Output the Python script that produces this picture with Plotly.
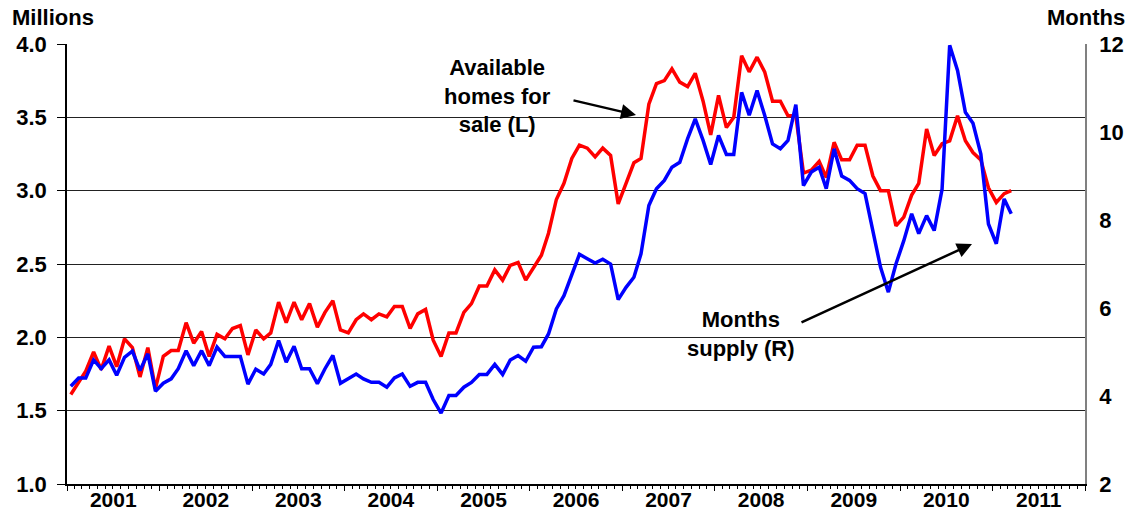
import pandas as pd
import plotly.graph_objects as go

# Monthly observations, January 2001 through March 2011
start_month = "2001-01"

# Existing homes available for sale, millions (left axis)
homes_for_sale = [
    1.61, 1.70, 1.77, 1.90, 1.78, 1.94, 1.80, 1.99, 1.93, 1.73, 1.93, 1.65,
    1.87, 1.91, 1.91, 2.10, 1.96, 2.04, 1.87, 2.02, 1.99, 2.06, 2.08, 1.88,
    2.05, 1.99, 2.03, 2.24, 2.10, 2.24, 2.12, 2.23, 2.07, 2.17, 2.25, 2.05,
    2.03, 2.12, 2.16, 2.12, 2.16, 2.14, 2.21, 2.21, 2.06, 2.16, 2.19, 1.98,
    1.87, 2.03, 2.03, 2.17, 2.23, 2.35, 2.35, 2.46, 2.39, 2.49, 2.51, 2.39,
    2.48, 2.56, 2.71, 2.94, 3.05, 3.22, 3.31, 3.29, 3.23, 3.29, 3.24, 2.91,
    3.05, 3.19, 3.22, 3.59, 3.73, 3.75, 3.83, 3.74, 3.71, 3.80, 3.61, 3.38,
    3.65, 3.43, 3.50, 3.92, 3.81, 3.91, 3.81, 3.61, 3.61, 3.51, 3.51, 3.12,
    3.14, 3.20, 3.09, 3.33, 3.21, 3.21, 3.31, 3.31, 3.10, 3.00, 3.00, 2.76,
    2.82, 2.97, 3.05, 3.42, 3.24, 3.32, 3.34, 3.51, 3.34, 3.26, 3.21, 3.02,
    2.92, 2.98, 3.00,
]

# Months' supply at the current sales pace (right axis)
months_supply = [
    4.22, 4.41, 4.41, 4.82, 4.62, 4.82, 4.47, 4.88, 5.02, 4.58, 4.96, 4.11,
    4.29, 4.39, 4.62, 5.03, 4.69, 5.03, 4.69, 5.11, 4.90, 4.90, 4.90, 4.27,
    4.61, 4.50, 4.72, 5.26, 4.77, 5.13, 4.62, 4.62, 4.28, 4.62, 4.92, 4.29,
    4.39, 4.50, 4.39, 4.31, 4.31, 4.20, 4.41, 4.50, 4.22, 4.31, 4.31, 3.92,
    3.61, 4.01, 4.01, 4.20, 4.31, 4.49, 4.49, 4.72, 4.49, 4.82, 4.92, 4.79,
    5.11, 5.12, 5.41, 5.98, 6.28, 6.78, 7.22, 7.12, 7.02, 7.11, 7.00, 6.19,
    6.47, 6.70, 7.23, 8.33, 8.71, 8.90, 9.20, 9.31, 9.85, 10.30, 9.81, 9.26,
    9.92, 9.49, 9.49, 10.90, 10.38, 10.94, 10.38, 9.73, 9.62, 9.81, 10.62, 8.78,
    9.09, 9.20, 8.71, 9.62, 9.00, 8.90, 8.71, 8.60, 7.76, 6.93, 6.36, 7.00,
    7.53, 8.14, 7.69, 8.10, 7.76, 8.70, 11.97, 11.40, 10.45, 10.20, 9.50, 7.91,
    7.46, 8.48, 8.14,
]

left_ticks = [1.0, 1.5, 2.0, 2.5, 3.0, 3.5, 4.0]
right_ticks = [2, 4, 6, 8, 10, 12]

# Points sit in the middle of each month
dates = pd.date_range(start_month, periods=len(homes_for_sale), freq="MS") + pd.Timedelta(days=15)

FONT = "Liberation Sans, Arial, sans-serif"
W, H = 1130, 520
ML, MR, MT, MB = 67, 45, 44, 36

fig = go.Figure()
fig.add_trace(go.Scatter(
    x=dates, y=homes_for_sale, mode="lines", name="Available homes for sale (L)",
    line=dict(color="#FF0000", width=3.5), yaxis="y",
))
fig.add_trace(go.Scatter(
    x=dates, y=months_supply, mode="lines", name="Months supply (R)",
    line=dict(color="#0000FF", width=3.5), yaxis="y2",
))

fig.update_layout(
    width=W, height=H,
    margin=dict(l=ML, r=MR, t=MT, b=MB),
    paper_bgcolor="white", plot_bgcolor="white",
    showlegend=False,
    font=dict(family=FONT, color="black"),
    xaxis=dict(
        type="date", automargin=False,
        range=["2001-01-01", "2012-01-01"],
        dtick="M12", tick0="2001-01-01",
        tickformat="%Y", ticklabelmode="period",
        ticks="outside", ticklen=5, tickcolor="black", tickwidth=1,
        minor=dict(dtick="M1", ticks="outside", ticklen=3, tickcolor="black", tickwidth=1),
        showgrid=False, zeroline=False,
        showline=True, linecolor="black", linewidth=1.5,
        ticklabelstandoff=-9,
        tickfont=dict(family=FONT, size=21, color="black", weight="bold"),
    ),
    yaxis=dict(
        automargin=False,
        range=[1.0, 4.0], tickvals=left_ticks, tickformat=".1f",
        ticks="outside", ticklen=8, tickcolor="black",
        showgrid=True, gridcolor="#222222", gridwidth=1,
        zeroline=False, showline=True, linecolor="black", linewidth=1.5,
        ticklabelstandoff=6,
        tickfont=dict(family=FONT, size=22, color="black", weight="bold"),
    ),
    yaxis2=dict(
        automargin=False,
        range=[2, 12], tickvals=right_ticks, overlaying="y", side="right",
        showgrid=False, zeroline=False,
        showline=True, linecolor="#808080", linewidth=1.5,
        ticks="", ticklabelstandoff=8,
        tickfont=dict(family=FONT, size=22, color="black", weight="bold"),
    ),
)

def px_x(px):
    return (px - ML) / (W - ML - MR)

def px_y(py):
    return (H - MB - py) / (H - MT - MB)

label_font = dict(family=FONT, size=22, color="black", weight="bold")

annotations = [
    dict(text="Millions", x=px_x(10), y=px_y(17), xanchor="left", yanchor="middle",
         font=label_font),
    dict(text="Months", x=px_x(1127), y=px_y(17), xanchor="right", yanchor="middle",
         font=label_font),
    dict(text="Available<br>homes for<br>sale (L)", x=px_x(497), y=px_y(96),
         xanchor="center", yanchor="middle", align="center", font=label_font),
    dict(text="Months<br>supply (R)", x=px_x(741), y=px_y(334),
         xanchor="center", yanchor="middle", align="center", font=label_font),
    dict(text="", x=px_x(636), y=px_y(115), ax=-64, ay=-15, axref="pixel", ayref="pixel",
         showarrow=True, arrowhead=2, arrowsize=1.2, arrowwidth=2.5, arrowcolor="black",
         standoff=0),
    dict(text="", x=px_x(972), y=px_y(244), ax=-172, ay=79, axref="pixel", ayref="pixel",
         showarrow=True, arrowhead=2, arrowsize=1.2, arrowwidth=2.5, arrowcolor="black",
         standoff=0),
]
for a in annotations:
    a.setdefault("xref", "paper")
    a.setdefault("yref", "paper")
    a.setdefault("showarrow", False)
fig.update_layout(annotations=annotations)

fig.write_html("out.html")
